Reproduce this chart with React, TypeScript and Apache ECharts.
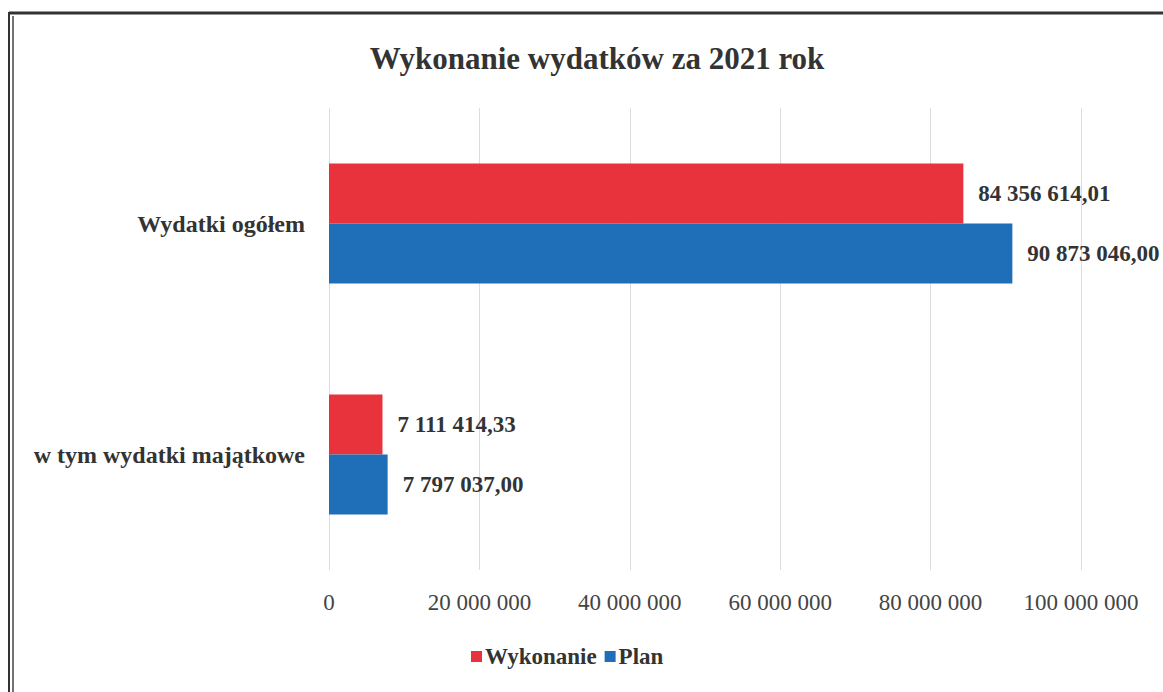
import React, { useEffect, useRef } from "react";
import * as echarts from "echarts";

const categories = ["Wydatki ogółem", "w tym wydatki majątkowe"];
const seriesNames = ["Wykonanie", "Plan"];
const wykonanie = [84356614.01, 7111414.33];
const plan = [90873046.0, 7797037.0];
const colors = ["#e8323c", "#1f6fb8"];
const title = "Wykonanie wydatków za 2021 rok";

function fmtValue(v: number): string {
  const [i, d] = v.toFixed(2).split(".");
  return i.replace(/\B(?=(\d{3})+(?!\d))/g, " ") + "," + d;
}
function fmtTick(v: number): string {
  return String(Math.round(v)).replace(/\B(?=(\d{3})+(?!\d))/g, " ");
}

const FONT = "'Liberation Serif', 'Times New Roman', serif";

export default function App() {
  const ref = useRef<HTMLDivElement>(null);
  useEffect(() => {
    if (!ref.current) return;
    const chart = echarts.init(ref.current, undefined, { renderer: "svg" });
    const labelStyle = {
      show: true,
      position: "right" as const,
      distance: 15,
      fontFamily: FONT,
      fontWeight: "bold" as const,
      fontSize: 23,
      color: "#333",
      formatter: (p: any) => fmtValue(p.value),
    };
    chart.setOption({
      animation: false,
      backgroundColor: "#ffffff",
      title: {
        text: title,
        left: 592,
        textAlign: "center",
        top: 38,
        textStyle: { fontFamily: FONT, fontWeight: "bold", fontSize: 31, color: "#333" },
      },
      legend: {
        data: seriesNames,
        left: 466,
        top: 640,
        itemWidth: 11,
        itemHeight: 11,
        itemGap: 8,
        icon: "rect",
        textStyle: { fontFamily: FONT, fontWeight: "bold", fontSize: 23, color: "#333", padding: [0, 0, 0, -2] },
      },
      grid: { left: 329, right: 82, top: 108, bottom: 122, containLabel: false },
      xAxis: {
        type: "value",
        min: 0,
        max: 100000000,
        interval: 20000000,
        axisLine: { show: false },
        axisTick: { show: false },
        splitLine: { show: true, lineStyle: { color: "#dcdcdc", width: 1 } },
        axisLabel: {
          margin: 21,
          fontFamily: FONT,
          fontSize: 23,
          color: "#444",
          formatter: (v: number) => fmtTick(v),
        },
      },
      yAxis: {
        type: "category",
        data: categories,
        inverse: true,
        axisLine: { show: false },
        axisTick: { show: false },
        axisLabel: {
          margin: 24,
          fontFamily: FONT,
          fontWeight: "bold",
          fontSize: 24,
          color: "#333",
        },
      },
      series: [
        {
          name: seriesNames[0],
          type: "bar",
          data: wykonanie,
          itemStyle: { color: colors[0] },
          barGap: "0%",
          barCategoryGap: "48%",
          label: labelStyle,
        },
        {
          name: seriesNames[1],
          type: "bar",
          data: plan,
          itemStyle: { color: colors[1] },
          barGap: "0%",
          barCategoryGap: "48%",
          label: labelStyle,
        },
      ],
      graphic: [
        { type: "line", shape: { x1: 9, y1: 13, x2: 1163, y2: 13 }, style: { stroke: "#333", lineWidth: 3 } },
        { type: "line", shape: { x1: 9, y1: 12, x2: 9, y2: 692 }, style: { stroke: "#333", lineWidth: 2 } },
        { type: "line", shape: { x1: 13, y1: 16, x2: 13, y2: 692 }, style: { stroke: "#444", lineWidth: 1.5 } },
      ],
    });
    return () => chart.dispose();
  }, []);
  return (
    <div
      ref={ref}
      style={{ position: "fixed", left: 0, top: 0, width: 1163, height: 692 }}
    />
  );
}
